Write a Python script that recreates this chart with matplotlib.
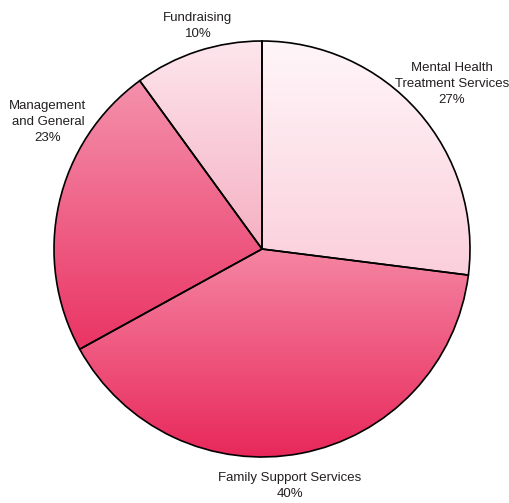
import numpy as np
import matplotlib
matplotlib.use("Agg")
import matplotlib.pyplot as plt
from matplotlib.patches import Wedge
from matplotlib.colors import LinearSegmentedColormap

plt.rcParams['font.family'] = ['Liberation Sans', 'DejaVu Sans']

labels = ['Mental Health\nTreatment Services', 'Family Support Services',
          'Management\nand General', 'Fundraising']
shares = [27, 40, 23, 10]
top_colors = ['#fff6f9', '#f585a2', '#f491ac', '#fde6ed']
bottom_colors = ['#fbcfdc', '#e8285b', '#ea3464', '#f5b0c3']
label_pos = [(452, 84), (290, 486), (48, 122), (198, 26)]

W, H = 509, 503
fig = plt.figure(figsize=(W / 100, H / 100), dpi=100)
ax = fig.add_axes([0, 0, 1, 1])
ax.set_xlim(0, W)
ax.set_ylim(0, H)
ax.axis('off')

cx, cy, r = 262, H - 249, 208

start = 90.0
for lab, s, c0, c1, (lx, ly) in zip(labels, shares, top_colors, bottom_colors, label_pos):
    end = start - s * 3.6
    w = Wedge((cx, cy), r, end, start, facecolor='none', edgecolor='black', lw=1.2, zorder=3)
    ax.add_patch(w)
    # vertical gradient clipped to the slice
    th = np.radians(np.linspace(end, start, 200))
    ys = np.concatenate([cy + r * np.sin(th), [cy]])
    ymin, ymax = ys.min(), ys.max()
    cmap = LinearSegmentedColormap.from_list('g', [c1, c0])
    grad = np.linspace(0, 1, 256).reshape(-1, 1)
    im = ax.imshow(grad, cmap=cmap, origin='lower', aspect='auto',
                   extent=(cx - r, cx + r, ymin, ymax), zorder=2)
    clip = Wedge((cx, cy), r, end, start, transform=ax.transData)
    im.set_clip_path(clip)
    ax.text(lx, H - ly, f'{lab}\n{s}%', ha='center', va='center', fontsize=9.5,
            color='#231f20', linespacing=1.4)
    start = end

ax.set_xlim(0, W)
ax.set_ylim(0, H)
fig.savefig('out.png', dpi=100)
